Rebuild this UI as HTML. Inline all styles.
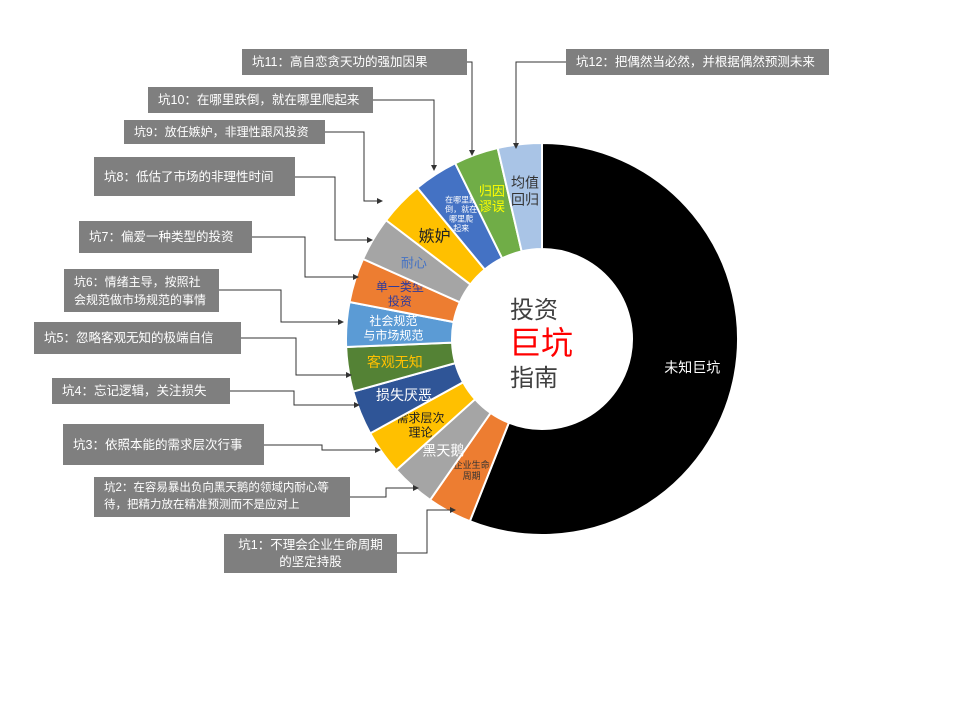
<!DOCTYPE html>
<html><head><meta charset="utf-8"><style>
body{margin:0;background:#fff;width:960px;height:720px;overflow:hidden;font-family:"Liberation Sans","Noto Sans CJK SC",sans-serif}
.box{position:absolute;background:#7f7f7f;color:#fff;font-size:12.5px;line-height:18px;display:flex;align-items:center;padding-left:10px;box-sizing:border-box;white-space:nowrap;overflow:hidden}
</style></head><body>
<svg id="chart" width="960" height="720" style="position:absolute;left:0;top:0">
<defs><marker id="ar" markerWidth="6" markerHeight="6" refX="5" refY="3" orient="auto"><path d="M0,0 L6,3 L0,6 z" fill="#333"/></marker></defs>
<g id="slices"></g><g id="conn"></g>
<text x="534" y="318" font-size="24" fill="#404040" text-anchor="middle" font-family="Liberation Sans,Noto Sans CJK SC,sans-serif">投资</text>
<text x="541" y="354" font-size="32" fill="#ff0000" text-anchor="middle" font-family="Liberation Sans,Noto Sans CJK SC,sans-serif">巨坑</text>
<text x="534" y="386" font-size="24" fill="#404040" text-anchor="middle" font-family="Liberation Sans,Noto Sans CJK SC,sans-serif">指南</text>
</svg>
<div class="box" style="left:242px;top:49px;width:225px;height:26px">坑11：高自恋贪天功的强加因果</div>
<div class="box" style="left:566px;top:49px;width:263px;height:26px">坑12：把偶然当必然，并根据偶然预测未来</div>
<div class="box" style="left:148px;top:87px;width:225px;height:26px">坑10：在哪里跌倒，就在哪里爬起来</div>
<div class="box" style="left:124px;top:120px;width:201px;height:24px;font-size:12px">坑9：放任嫉妒，非理性跟风投资</div>
<div class="box" style="left:94px;top:157px;width:201px;height:39px">坑8：低估了市场的非理性时间</div>
<div class="box" style="left:79px;top:221px;width:173px;height:32px">坑7：偏爱一种类型的投资</div>
<div class="box" style="left:64px;top:269px;width:155px;height:43px;font-size:12px">坑6：情绪主导，按照社<br>会规范做市场规范的事情</div>
<div class="box" style="left:34px;top:322px;width:207px;height:32px">坑5：忽略客观无知的极端自信</div>
<div class="box" style="left:52px;top:378px;width:178px;height:26px">坑4：忘记逻辑，关注损失</div>
<div class="box" style="left:63px;top:424px;width:201px;height:41px">坑3：依照本能的需求层次行事</div>
<div class="box" style="left:94px;top:477px;width:256px;height:40px;line-height:17px;font-size:11.5px">坑2：在容易暴出负向黑天鹅的领域内耐心等<br>待，把精力放在精准预测而不是应对上</div>
<div class="box" style="left:224px;top:534px;width:173px;height:39px;line-height:17px;justify-content:center;text-align:center;padding:0">坑1：不理会企业生命周期<br>的坚定持股</div>
<script>
const categories=["未知巨坑","企业生命周期","黑天鹅","需求层次理论","损失厌恶","客观无知","社会规范与市场规范","单一类型投资","耐心","嫉妒","在哪里跌倒，就在哪里爬起来","归因谬误","均值回归"];
const values=[56,3.67,3.67,3.67,3.67,3.67,3.67,3.67,3.67,3.67,3.67,3.67,3.63];
const colors=["#000000","#ED7D31","#A5A5A5","#FFC000","#2F5597","#548235","#5B9BD5","#ED7D31","#A5A5A5","#FFC000","#4472C4","#70AD47","#A9C4E6"];
const textColors=["#fff","#333","#fff","#222","#fff","#FFC000","#fff","#2E3A9C","#4472C4","#222","#fff","#FFFF00","#333"];
const labelLines=[["未知巨坑"],["企业生命","周期"],["黑天鹅"],["需求层次","理论"],["损失厌恶"],["客观无知"],["社会规范","与市场规范"],["单一类型","投资"],["耐心"],["嫉妒"],["在哪里跌","倒，就在","哪里爬","起来"],["归因","谬误"],["均值","回归"]];
const fontSizes=[14,9,14,12,14,14,12,12,13,16,8,13,14];
const cx=542,cy=339,R=196,r=90;
const NS="http://www.w3.org/2000/svg";
const total=values.reduce((a,b)=>a+b,0);
function ang(v){return v/total*2*Math.PI;}
function pt(a,rad){return [cx+rad*Math.sin(a),cy-rad*Math.cos(a)];}
const g=document.getElementById('slices');
let acc=0;
values.forEach((v,i)=>{
  const a0=ang(acc),a1=ang(acc+v);acc+=v;
  const large=(a1-a0)>Math.PI?1:0;
  const p1=pt(a0,R),p2=pt(a1,R),p3=pt(a1,r),p4=pt(a0,r);
  const p=document.createElementNS(NS,'path');
  p.setAttribute('d',`M${p1} A${R},${R} 0 ${large} 1 ${p2} L${p3} A${r},${r} 0 ${large} 0 ${p4} Z`);
  p.setAttribute('fill',colors[i]);p.setAttribute('stroke','#fff');p.setAttribute('stroke-width','2');
  
  
  g.appendChild(p);
  const am=(a0+a1)/2;const lr=i===0?(R+r)/2+10:(R+r)/2+6;
  const c=pt(am,lr);
  const fs=fontSizes[i];const lines=labelLines[i];
  const t=document.createElementNS(NS,'text');
  t.setAttribute('x',c[0]);t.setAttribute('y',c[1]-(lines.length-1)*fs*0.6+fs*0.35);
  t.setAttribute('text-anchor','middle');t.setAttribute('font-size',fs);t.setAttribute('fill',textColors[i]);
  t.setAttribute('font-family','Liberation Sans,Noto Sans CJK SC,sans-serif');
  
  
  lines.forEach((l,k)=>{const s=document.createElementNS(NS,'tspan');s.setAttribute('x',c[0]);s.setAttribute('dy',k?fs*1.2:0);s.textContent=l;t.appendChild(s);});
  g.appendChild(t);
});
const connectors=[
 "467,62 472,62 472,155","566,62 516,62 516,148","373,100 434,100 434,170",
 "325,132 364,132 364,201 382,201","295,177 335,177 335,240 372,240","252,237 305,237 305,277 358,277",
 "219,290 281,290 281,322 343,322","241,338 296,338 296,375 351,375","230,391 294,391 294,405 359,405",
 "264,445 322,445 322,450 380,450","350,497 386,497 386,488 418,488","397,553 427,553 427,510 455,510"];
const cg=document.getElementById('conn');
connectors.forEach((c,i)=>{const l=document.createElementNS(NS,'polyline');l.setAttribute('points',c);l.setAttribute('fill','none');l.setAttribute('stroke','#333');l.setAttribute('stroke-width','1');l.setAttribute('marker-end','url(#ar)');


cg.appendChild(l);});
</script>
</body></html>
